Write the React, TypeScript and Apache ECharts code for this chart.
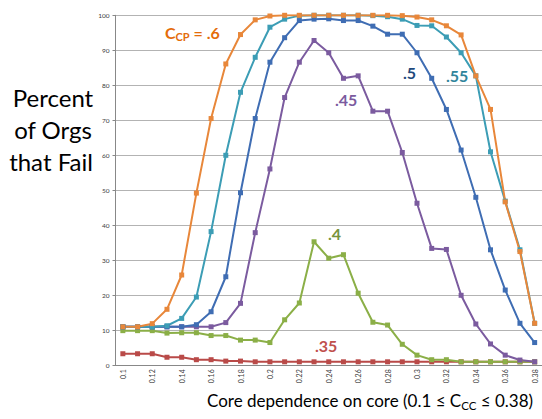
import React, { useEffect, useRef } from "react";
import * as echarts from "echarts";

const categories = [
  "0.1","0.11","0.12","0.13","0.14","0.15","0.16","0.17","0.18","0.19",
  "0.2","0.21","0.22","0.23","0.24","0.25","0.26","0.27","0.28","0.29",
  "0.3","0.31","0.32","0.33","0.34","0.35","0.36","0.37","0.38",
];

const s60 = [11, 11, 11.9, 16, 25.8, 49.2, 70.5, 86.1, 94.5, 98.7, 99.8, 100, 100, 100, 100, 100, 100, 100, 100, 99.9, 99.5, 98.7, 97, 94.4, 82.7, 73.1, 46.7, 32.5, 12];
const s55 = [11, 11, 11, 11.3, 13.4, 19.5, 38.2, 60, 78, 88, 96.6, 98.9, 99.9, 100, 100, 100, 100, 99.9, 99.6, 98.9, 97.1, 97, 93.8, 89.3, 82.7, 61, 46.9, 33, 12];
const s50 = [11, 11, 11, 11, 11, 11.6, 15.3, 25.3, 49.3, 70.5, 86.6, 93.6, 98.5, 98.9, 99, 98.5, 98.5, 96.9, 94.6, 94.6, 89.3, 82, 73.1, 61.5, 48, 33, 21.5, 12, 6.5];
const s45 = [11, 11, 11, 11, 11, 11, 11, 12.2, 17.7, 37.9, 56.1, 76.5, 86.6, 92.8, 89.3, 82, 82.7, 72.6, 72.6, 60.8, 46.3, 33.4, 33.1, 20, 11.8, 6.1, 2.9, 1.5, 1];
const s40 = [9.9, 9.9, 9.9, 9.2, 9.3, 9.3, 8.5, 8.5, 7.2, 7.2, 6.5, 13, 17.8, 35.3, 30.6, 31.6, 20.6, 12.3, 11.5, 6, 2.9, 1.6, 1.6, 1, 1, 1, 1, 1, 1];
const s35 = [3.3, 3.3, 3.3, 2.3, 2.3, 1.6, 1.6, 1.2, 1.2, 1, 1, 1, 1, 1, 1, 1, 1, 1, 1, 1, 1, 1, 1, 1, 1, 1, 1, 1, 1];

const seriesDefs = [
  { name: ".35", data: s35, color: "#B94A48" },
  { name: ".4", data: s40, color: "#8BAF47" },
  { name: ".45", data: s45, color: "#7B5B9F" },
  { name: ".5", data: s50, color: "#3F6DB3" },
  { name: ".55", data: s55, color: "#3C9DB5" },
  { name: ".6", data: s60, color: "#E8873A" },
];

const FONT = "Lato, 'Open Sans', sans-serif";

export default function App() {
  const ref = useRef<HTMLDivElement>(null);
  useEffect(() => {
    if (!ref.current) return;
    const chart = echarts.init(ref.current, null, { renderer: "svg" });
    chart.setOption({
      animation: false,
      backgroundColor: "#ffffff",
      grid: { left: 115.5, right: -1.5, top: 15.3, bottom: 53.7, containLabel: false },
      xAxis: {
        type: "category",
        data: categories,
        boundaryGap: true,
        axisLine: { lineStyle: { color: "#888", width: 1 } },
        axisTick: { interval: 0, length: 3, lineStyle: { color: "#888" } },
        axisLabel: { interval: 1, rotate: 90, fontSize: 7, color: "#404040", fontFamily: FONT, margin: 4 },
        splitLine: { show: false },
      },
      yAxis: {
        type: "value",
        min: 0,
        max: 100,
        interval: 10,
        axisLine: { show: true, lineStyle: { color: "#888", width: 1 } },
        axisTick: { show: true, length: 3, lineStyle: { color: "#888" } },
        axisLabel: { fontSize: 6.5, color: "#404040", fontFamily: FONT, margin: 6 },
        splitLine: { lineStyle: { color: "#b3b3b3", width: 1 } },
      },
      series: seriesDefs.map((s) => ({
        name: s.name,
        type: "line",
        data: s.data,
        symbol: "rect",
        symbolSize: 5,
        showSymbol: true,
        lineStyle: { color: s.color, width: 2 },
        itemStyle: { color: s.color },
        z: 2,
      })),
      graphic: [
        { type: "text", x: 53, y: 85, style: { text: "Percent", font: `24px ${FONT}`, fill: "#000", textAlign: "center" } },
        { type: "text", x: 53, y: 117, style: { text: "of Orgs", font: `24px ${FONT}`, fill: "#000", textAlign: "center" } },
        { type: "text", x: 51, y: 149, style: { text: "that Fail", font: `24px ${FONT}`, fill: "#000", textAlign: "center" } },
        {
          type: "text",
          left: 207,
          top: 392,
          style: {
            rich: {
              a: { fontSize: 17, fontFamily: FONT, fill: "#000" },
              s: { fontSize: 11.5, fontFamily: FONT, fill: "#000", padding: [9, 0, 0, 0] },
            },
            text: "{a|Core dependence on core (0.1 ≤ C}{s|CC}{a| ≤ 0.38)}",
          },
        },
        {
          type: "text",
          left: 165,
          top: 24,
          style: {
            rich: {
              a: { fontSize: 16, fontWeight: "bold", fontFamily: FONT, fill: "#E46C0A" },
              s: { fontSize: 11, fontWeight: "bold", fontFamily: FONT, fill: "#E46C0A", padding: [8, 0, 0, 0] },
            },
            text: "{a|C}{s|CP}{a| = .6}",
          },
        },
        { type: "text", left: 403, top: 64, style: { text: ".5", font: `bold 16px ${FONT}`, fill: "#1F497D" } },
        { type: "text", left: 446, top: 67, style: { text: ".55", font: `bold 16px ${FONT}`, fill: "#31859C" } },
        { type: "text", left: 335, top: 91, style: { text: ".45", font: `bold 16px ${FONT}`, fill: "#7B5B9F" } },
        { type: "text", left: 328, top: 225, style: { text: ".4", font: `bold 16px ${FONT}`, fill: "#77933C" } },
        { type: "text", left: 315, top: 337, style: { text: ".35", font: `bold 16px ${FONT}`, fill: "#C0504D" } },
      ],
    });
    return () => chart.dispose();
  }, []);
  return <div ref={ref} style={{ position: "fixed", left: 0, top: 0, width: 542, height: 419 }} />;
}
